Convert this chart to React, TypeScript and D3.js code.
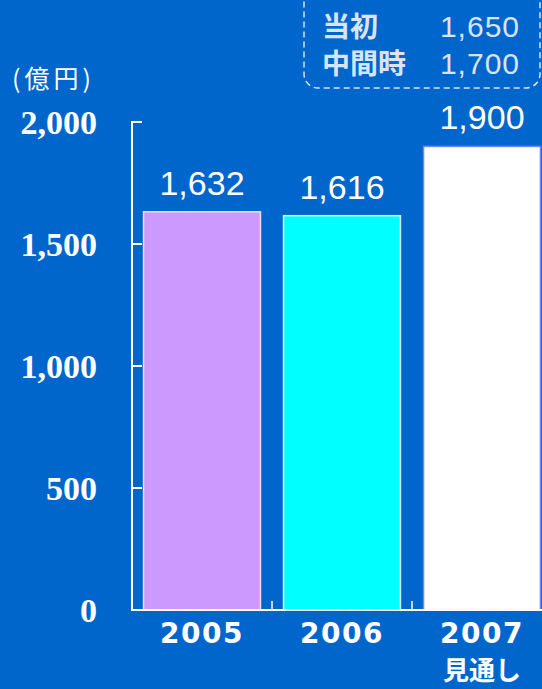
import React from "react";
import * as d3 from "d3";

const categories = ["2005", "2006", "2007"];
const subLabels = ["", "", "見通し"];
const values = [1632, 1616, 1900];
const valueLabels = ["1,632", "1,616", "1,900"];
const barColors = ["#CC99FF", "#00FFFF", "#FFFFFF"];
const barStrokes = ["#E8E0FF", "#D0FFFF", "#6E86FF"];
const yTicks = [0, 500, 1000, 1500, 2000];
const yTickLabels = ["0", "500", "1,000", "1,500", "2,000"];
const legendNames = ["当初", "中間時"];
const legendValues = ["1,650", "1,700"];
const unitLabel = "(億円)";

const W = 542;
const H = 689;
const BG = "#0066CC";

export default function App() {
  const x = d3
    .scaleBand<string>()
    .domain(categories)
    .range([132, 552])
    .paddingInner(0.165)
    .paddingOuter(0.0825);
  const y = d3.scaleLinear().domain([0, 2000]).range([610, 122]);
  const step = x.step();
  const x0 = 132;

  return (
    <div style={{ position: "absolute", left: 0, top: 0, width: W, height: H, overflow: "hidden" }}>
      <svg width={W} height={H} style={{ display: "block" }}>
        <rect x={0} y={0} width={W} height={H} fill={BG} />
        {/* bars */}
        {categories.map((c, i) => (
          <rect
            key={c}
            x={x(c)!}
            y={y(values[i])}
            width={x.bandwidth()}
            height={y(0) - y(values[i])}
            fill={barColors[i]}
            stroke={barStrokes[i]}
            strokeWidth={1.5}
          />
        ))}
        {/* value labels */}
        {categories.map((c, i) => (
          <text
            key={"v" + c}
            x={x(c)! + x.bandwidth() / 2}
            y={y(values[i]) - 17}
            textAnchor="middle"
            fill="#FFFFFF"
            fontFamily="'Liberation Sans', Arial, sans-serif"
            fontSize={34}
          >
            {valueLabels[i]}
          </text>
        ))}
        {/* axes */}
        <line x1={x0} y1={121} x2={x0} y2={611} stroke="#FFFFFF" strokeWidth={2} />
        <line x1={x0 - 1} y1={610} x2={W} y2={610} stroke="#FFFFFF" strokeWidth={2} />
        {yTicks.map((t) => (
          <line key={"t" + t} x1={x0} x2={x0 + 10} y1={y(t)} y2={y(t)} stroke="#FFFFFF" strokeWidth={2} />
        ))}
        {categories.slice(1).map((c, i) => (
          <line
            key={"xt" + c}
            x1={x0 + step * (i + 1)}
            x2={x0 + step * (i + 1)}
            y1={610}
            y2={601}
            stroke="#FFFFFF"
            strokeWidth={1.5}
          />
        ))}
        {/* y tick labels */}
        {yTicks.map((t, i) => (
          <text
            key={"yl" + t}
            x={97}
            y={y(t) + 12}
            textAnchor="end"
            fill="#FFFFFF"
            fontFamily="'Liberation Serif', 'Times New Roman', serif"
            fontWeight="bold"
            fontSize={34}
          >
            {yTickLabels[i]}
          </text>
        ))}
        {/* unit */}
        <text
          x={12}
          y={88}
          fill="#FFFFFF"
          fontFamily="'Noto Sans CJK JP', sans-serif"
          fontSize={25}
          letterSpacing={4}
        >
          {unitLabel}
        </text>
        {/* category labels */}
        {categories.map((c, i) => (
          <g key={"c" + c}>
            <text
              x={x(c)! + x.bandwidth() / 2}
              y={643}
              textAnchor="middle"
              fill="#FFFFFF"
              fontFamily="'DejaVu Sans', Verdana, sans-serif"
              fontWeight="bold"
              fontSize={28}
              letterSpacing={1.5}
            >
              {c}
            </text>
            {subLabels[i] && (
              <text
                x={x(c)! + x.bandwidth() / 2}
                y={680}
                textAnchor="middle"
                fill="#FFFFFF"
                fontFamily="'Noto Sans CJK JP', sans-serif"
                fontWeight="bold"
                fontSize={26}
              >
                {subLabels[i]}
              </text>
            )}
          </g>
        ))}
        {/* legend box */}
        <rect
          x={304}
          y={-12}
          width={236}
          height={100}
          rx={14}
          fill="none"
          stroke="#D8E4F4"
          strokeWidth={1.5}
          strokeDasharray="6 4"
        />
        {legendNames.map((n, i) => (
          <g key={"lg" + n}>
            <text
              x={322}
              y={37 + i * 37}
              fill="#D8E4F4"
              fontFamily="'Noto Sans CJK JP', sans-serif"
              fontWeight="bold"
              fontSize={28}
            >
              {n}
            </text>
            <text
              x={520}
              y={37 + i * 37}
              textAnchor="end"
              fill="#D8E4F4"
              fontFamily="'Liberation Sans', Arial, sans-serif"
              fontSize={30}
              letterSpacing={1}
            >
              {legendValues[i]}
            </text>
          </g>
        ))}
      </svg>
    </div>
  );
}
